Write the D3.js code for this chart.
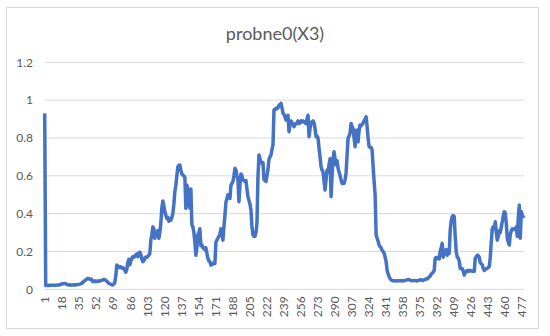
<!DOCTYPE html>
<html>
<head>
<meta charset="utf-8">
<script src="https://cdn.jsdelivr.net/npm/d3@7"></script>
<style>
  body { margin: 0; background: #fff; }
  text { font-family: Lato, "Open Sans", sans-serif; }
</style>
</head>
<body>
<div id="chart"></div>
<script>
var title = "probne0(X3)";

// series values, one per observation (1..480)
var values = [
  0.93, 0.02, 0.02, 0.02, 0.021, 0.02, 0.021, 0.022, 0.021, 0.022,
  0.022, 0.021, 0.022, 0.023, 0.022, 0.024, 0.026, 0.028, 0.029, 0.03,
  0.031, 0.029, 0.026, 0.024, 0.023, 0.024, 0.023, 0.022, 0.023, 0.024,
  0.023, 0.024, 0.024, 0.025, 0.026, 0.027, 0.029, 0.032, 0.036, 0.042,
  0.046, 0.05, 0.054, 0.058, 0.056, 0.053, 0.055, 0.05, 0.041, 0.043,
  0.045, 0.04, 0.043, 0.044, 0.042, 0.045, 0.046, 0.047, 0.05, 0.052,
  0.052, 0.047, 0.043, 0.038, 0.032, 0.029, 0.027, 0.024, 0.023, 0.028,
  0.036, 0.07, 0.128, 0.122, 0.115, 0.12, 0.118, 0.112, 0.115, 0.11,
  0.1, 0.09, 0.105, 0.14, 0.158, 0.13, 0.15, 0.165, 0.172, 0.168,
  0.176, 0.18, 0.187, 0.172, 0.19, 0.197, 0.185, 0.16, 0.146, 0.15,
  0.165, 0.17, 0.168, 0.175, 0.18, 0.19, 0.26, 0.29, 0.33, 0.32,
  0.27, 0.3, 0.29, 0.31, 0.27, 0.3, 0.35, 0.43, 0.467, 0.44,
  0.41, 0.39, 0.375, 0.38, 0.36, 0.37, 0.365, 0.38, 0.4, 0.45,
  0.516, 0.55, 0.6, 0.648, 0.655, 0.657, 0.63, 0.61, 0.604, 0.6,
  0.59, 0.428, 0.55, 0.53, 0.45, 0.43, 0.53, 0.34, 0.33, 0.3,
  0.25, 0.18, 0.22, 0.29, 0.3, 0.32, 0.23, 0.235, 0.22, 0.215,
  0.21, 0.22, 0.19, 0.164, 0.15, 0.146, 0.128, 0.13, 0.135, 0.14,
  0.137, 0.25, 0.26, 0.27, 0.28, 0.29, 0.32, 0.3, 0.26, 0.33,
  0.39, 0.46, 0.48, 0.5, 0.49, 0.48, 0.55, 0.56, 0.57, 0.6,
  0.64, 0.63, 0.6, 0.578, 0.463, 0.55, 0.61, 0.6, 0.578, 0.575,
  0.57, 0.575, 0.53, 0.49, 0.47, 0.45, 0.42, 0.33, 0.287, 0.28,
  0.28, 0.3, 0.35, 0.595, 0.71, 0.69, 0.67, 0.665, 0.67, 0.58,
  0.575, 0.57, 0.6, 0.634, 0.687, 0.7, 0.71, 0.74, 0.763, 0.948,
  0.95, 0.957, 0.955, 0.96, 0.974, 0.97, 0.983, 0.96, 0.93, 0.925,
  0.91, 0.895, 0.91, 0.92, 0.833, 0.87, 0.89, 0.88, 0.875, 0.86,
  0.87, 0.876, 0.88, 0.89, 0.876, 0.88, 0.89, 0.885, 0.89, 0.885,
  0.88, 0.876, 0.9, 0.92, 0.807, 0.85, 0.88, 0.885, 0.89, 0.88,
  0.85, 0.807, 0.81, 0.8, 0.745, 0.7, 0.648, 0.63, 0.62, 0.57,
  0.525, 0.58, 0.63, 0.62, 0.66, 0.69, 0.49, 0.6, 0.69, 0.727,
  0.69, 0.657, 0.68, 0.64, 0.62, 0.6, 0.578, 0.56, 0.565, 0.56,
  0.58, 0.615, 0.71, 0.8, 0.81, 0.825, 0.877, 0.86, 0.85, 0.8,
  0.754, 0.84, 0.842, 0.78, 0.84, 0.868, 0.865, 0.87, 0.88, 0.89,
  0.9, 0.912, 0.86, 0.8, 0.754, 0.75, 0.75, 0.736, 0.65, 0.57,
  0.5, 0.287, 0.27, 0.255, 0.234, 0.225, 0.22, 0.205, 0.2, 0.19,
  0.17, 0.146, 0.1, 0.08, 0.067, 0.055, 0.05, 0.046, 0.045, 0.045,
  0.044, 0.045, 0.045, 0.044, 0.045, 0.046, 0.045, 0.044, 0.045, 0.045,
  0.046, 0.048, 0.05, 0.052, 0.05, 0.048, 0.046, 0.045, 0.046, 0.047,
  0.046, 0.044, 0.045, 0.046, 0.048, 0.05, 0.05, 0.048, 0.047, 0.05,
  0.052, 0.055, 0.055, 0.06, 0.065, 0.07, 0.08, 0.085, 0.09, 0.1,
  0.164, 0.168, 0.165, 0.17, 0.16, 0.2, 0.22, 0.243, 0.17, 0.19,
  0.2, 0.21, 0.18, 0.2, 0.19, 0.313, 0.36, 0.384, 0.39, 0.385,
  0.28, 0.2, 0.17, 0.165, 0.15, 0.11, 0.11, 0.11, 0.095, 0.075,
  0.094, 0.09, 0.1, 0.1, 0.095, 0.1, 0.098, 0.095, 0.096, 0.095,
  0.164, 0.17, 0.18, 0.178, 0.17, 0.14, 0.135, 0.13, 0.11, 0.1,
  0.105, 0.11, 0.11, 0.115, 0.12, 0.17, 0.25, 0.32, 0.33, 0.32,
  0.357, 0.3, 0.26, 0.28, 0.31, 0.3, 0.33, 0.357, 0.39, 0.41,
  0.405, 0.35, 0.27, 0.25, 0.234, 0.29, 0.31, 0.32, 0.315, 0.32,
  0.32, 0.33, 0.28, 0.38, 0.445, 0.27, 0.41, 0.39, 0.385, 0.39
];

// category labels 1..N, every 17th shown
var categories = values.map(function(d, i) { return i + 1; });
var xTickLabels = [1, 18, 35, 52, 69, 86, 103, 120, 137, 154, 171, 188, 205, 222, 239,
  256, 273, 290, 307, 324, 341, 358, 375, 392, 409, 426, 443, 460, 477];
var yTicks = [0, 0.2, 0.4, 0.6, 0.8, 1, 1.2];

var width = 550, height = 336;
var plot = { left: 44.7, right: 524.3, top: 62.3, bottom: 289.3 };

var svg = d3.select("#chart")
    .append("svg")
    .attr("width", width)
    .attr("height", height);

// chart border
svg.append("rect")
    .attr("x", 6.5).attr("y", 7.5)
    .attr("width", 532).attr("height", 321)
    .attr("fill", "#fff")
    .attr("stroke", "#d9d9d9");

var x = d3.scalePoint()
    .domain(categories)
    .range([plot.left, plot.right]);

var y = d3.scaleLinear()
    .domain([0, 1.2])
    .range([plot.bottom, plot.top]);

// gridlines
svg.append("g")
    .selectAll("line")
    .data(yTicks)
    .enter().append("line")
    .attr("x1", plot.left)
    .attr("x2", plot.right)
    .attr("y1", function(d) { return y(d); })
    .attr("y2", function(d) { return y(d); })
    .attr("stroke", "#d9d9d9")
    .attr("stroke-width", 1);

// y axis labels
var yAxis = d3.axisLeft(y)
    .tickValues(yTicks)
    .tickSize(0)
    .tickPadding(0)
    .tickFormat(function(d) { return String(+d.toFixed(1)); });

var yAxisGroup = svg.append("g")
    .attr("transform", "translate(33,0)")
    .call(yAxis);
yAxisGroup.select(".domain").remove();
yAxisGroup.selectAll("text")
    .attr("fill", "#595959")
    .style("font-size", "12px");

// x axis labels (rotated)
var xAxis = d3.axisBottom(x)
    .tickValues(xTickLabels)
    .tickSize(0)
    .tickPadding(0);

var xAxisGroup = svg.append("g")
    .attr("transform", "translate(0," + plot.bottom + ")")
    .call(xAxis);
xAxisGroup.select(".domain").remove();
xAxisGroup.selectAll("text")
    .attr("fill", "#595959")
    .style("font-size", "12px")
    .attr("text-anchor", "end")
    .attr("transform", "rotate(-90)")
    .attr("x", -7)
    .attr("y", 0)
    .attr("dy", "0.35em");

// the series line
var line = d3.line()
    .x(function(d, i) { return x(categories[i]); })
    .y(function(d) { return y(d); });

svg.append("path")
    .datum(values)
    .attr("d", line)
    .attr("fill", "none")
    .attr("stroke", "#4472c4")
    .attr("stroke-width", 3.5)
    .attr("stroke-linejoin", "round");

// title
svg.append("text")
    .attr("x", 275)
    .attr("y", 40)
    .attr("text-anchor", "middle")
    .attr("fill", "#595959")
    .style("font-size", "18px")
    .text(title);
</script>
</body>
</html>
